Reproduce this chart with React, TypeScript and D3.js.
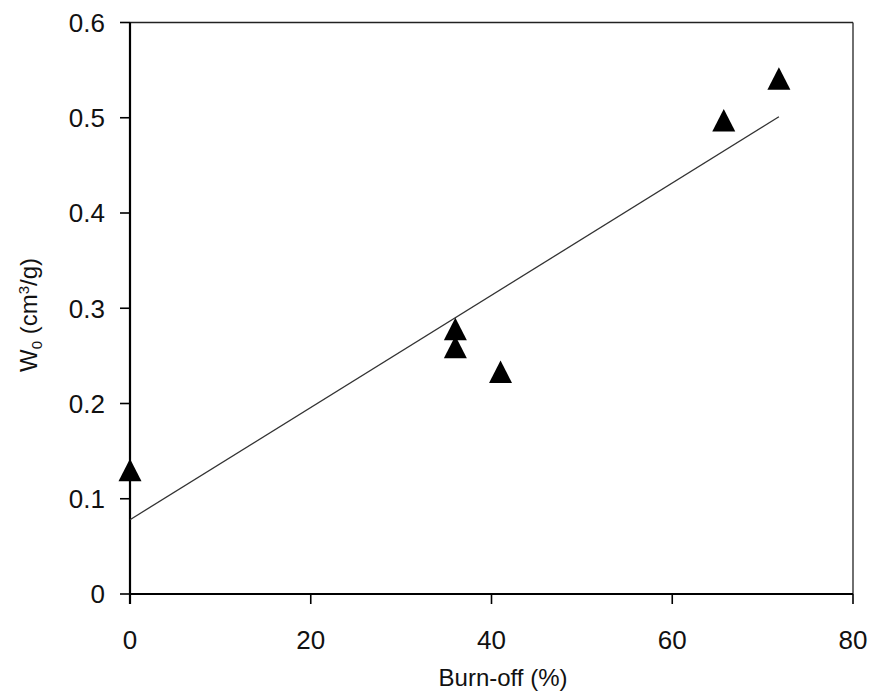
import React from 'react';
import * as d3 from 'd3';

const width = 872;
const height = 694;
const margin = { top: 22.5, right: 19, bottom: 100, left: 130 };

// burn-off (%) and W0 (cm3/g)
const burnOff = [0, 36, 36, 41, 65.7, 71.8];
const w0 = [0.13, 0.278, 0.259, 0.233, 0.497, 0.541];

// fitted straight line, end points
const fitX = [0, 71.8];
const fitY = [0.078, 0.501];

const xTicks = [0, 20, 40, 60, 80];
const yTicks = [0, 0.1, 0.2, 0.3, 0.4, 0.5, 0.6];

const font = 'Liberation Sans, Arial, sans-serif';

export default function App() {
  const x = d3.scaleLinear().domain([0, 80]).range([margin.left, width - margin.right]);
  const y = d3.scaleLinear().domain([0, 0.6]).range([height - margin.bottom, margin.top]);

  const x0 = x(0);
  const x1 = x(80);
  const y0 = y(0);
  const y1 = y(0.6);

  const fitLine = d3
    .line<number>()
    .x(d => x(fitX[d]))
    .y(d => y(fitY[d]))([0, 1]);

  const tri = (cx: number, cy: number) => {
    const p = d3.path();
    p.moveTo(cx, cy - 11.5);
    p.lineTo(cx + 11.5, cy + 11);
    p.lineTo(cx - 11.5, cy + 11);
    p.closePath();
    return p.toString();
  };

  return (
    <svg
      width={width}
      height={height}
      style={{ position: 'absolute', left: 0, top: 0, background: '#fff' }}
    >
      {/* frame */}
      <line x1={x0} x2={x1} y1={y1} y2={y1} stroke="#222" strokeWidth={1.3} />
      <line x1={x1} x2={x1} y1={y1} y2={y0} stroke="#222" strokeWidth={1.3} />
      <line x1={x0} x2={x1} y1={y0} y2={y0} stroke="#000" strokeWidth={2.2} />
      <line x1={x0} x2={x0} y1={y1} y2={y0 + 10} stroke="#000" strokeWidth={2.2} />

      {/* y ticks */}
      {yTicks.map(t => (
        <g key={'y' + t}>
          <line x1={x0 - 10} x2={x0} y1={y(t)} y2={y(t)} stroke="#000" strokeWidth={1.6} />
          <text
            x={x0 - 25}
            y={y(t)}
            dy="0.36em"
            textAnchor="end"
            fontFamily={font}
            fontSize={26}
            fill="#111"
          >
            {t === 0 ? '0' : d3.format('.1f')(t)}
          </text>
        </g>
      ))}

      {/* x ticks */}
      {xTicks.map(t => (
        <g key={'x' + t}>
          <line x1={x(t)} x2={x(t)} y1={y0} y2={y0 + 10} stroke="#000" strokeWidth={1.6} />
          <text
            x={x(t)}
            y={649}
            textAnchor="middle"
            fontFamily={font}
            fontSize={26}
            fill="#111"
          >
            {t}
          </text>
        </g>
      ))}

      {/* axis titles */}
      <text x={503} y={686} textAnchor="middle" fontFamily={font} fontSize={24} fill="#111">
        Burn-off (%)
      </text>
      <text
        transform={`translate(37, 315) rotate(-90)`}
        textAnchor="middle"
        fontFamily={font}
        fontSize={24}
        fill="#111"
      >
        W<tspan fontSize={15} dy={5}>0</tspan>
        <tspan dy={-5}> (cm</tspan>
        <tspan fontSize={15} dy={-8}>3</tspan>
        <tspan dy={8}>/g)</tspan>
      </text>

      {/* fit line */}
      <path d={fitLine || ''} fill="none" stroke="#333" strokeWidth={1.3} />

      {/* points */}
      {burnOff.map((b, i) => (
        <path key={'p' + i} d={tri(x(b), y(w0[i]))} fill="#000" />
      ))}
    </svg>
  );
}
